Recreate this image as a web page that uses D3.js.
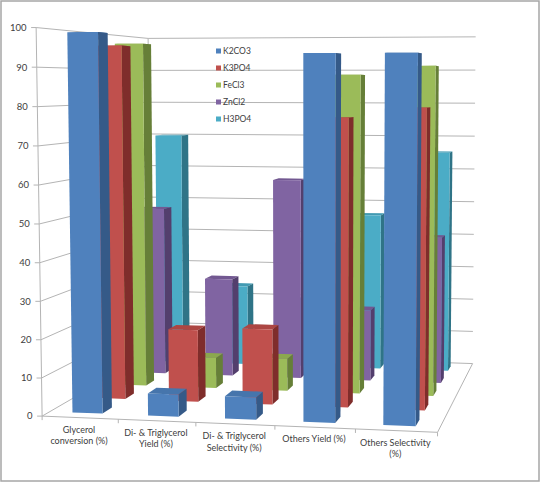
<!DOCTYPE html>
<html><head><meta charset="utf-8">
<style>html,body{margin:0;padding:0;background:#fff}svg{display:block}text{font-family:Lato,"Liberation Sans",Arial,sans-serif;fill:#404040}</style>
<script src="https://cdn.jsdelivr.net/npm/d3@7/dist/d3.min.js"></script>
</head><body><svg id="c" width="540" height="482"></svg>
<script>
const categories = [["Glycerol","conversion (%)"],["Di- & Triglycerol","Yield (%)"],["Di- & Triglycerol","Selectivity (%)"],["Others Yield (%)"],["Others Selectivity","(%)"]];
const seriesNames = ["K2CO3","K3PO4","FeCl3","ZnCl2","H3PO4"];
const k2co3 = [99,5.8,5.8,93.5,93.5];
const k3po4 = [96,19.6,20.4,77,79.7];
const fecl3 = [97,8.6,9,88.3,90.7];
const zncl2 = [49,28.6,58,20.5,42];
const h3po4 = [70,24,20,46.5,65.5];
const seriesValues = [k2co3,k3po4,fecl3,zncl2,h3po4];
const yTicks = d3.range(0,101,10);
const faceColors = ["#4F81BD","#C0504D","#9BBB59","#8064A2","#4BACC6"];
const sideColors = ["#355A88","#7F2D2B","#667F38","#533F6D","#2F7487"];
const topColors  = ["#4675AC","#AC4643","#8BA84E","#725891","#429AB2"];

// Camera calibration: box corners (unit cube) -> screen, least-squares DLT
const calib=[[0,0,0,41,415],[1,0,0,438,433],[0,0,1,152,354],[1,0,1,472,363],[0,1,0,37,28],[0,1,1,147,38],[1,1,1,476,37],
             [0,.5,0,39,224],[0,.5,1,150,197],[1,.5,1,474,201.6]];
function solve(M,b){
  const n=b.length,a=M.map((r,i)=>[...r,b[i]]);
  for(let c=0;c<n;c++){
    let p=c;for(let r=c+1;r<n;r++)if(Math.abs(a[r][c])>Math.abs(a[p][c]))p=r;
    [a[c],a[p]]=[a[p],a[c]];
    for(let r=0;r<n;r++){if(r===c)continue;const f=a[r][c]/a[c][c];for(let k=c;k<=n;k++)a[r][k]-=f*a[c][k];}
  }
  return a.map((r,i)=>r[n]/r[i]);
}
const rows=[],rhs=[];
calib.forEach(([x,y,z,u,v])=>{
  rows.push([x,y,z,1,0,0,0,0,-u*x,-u*y,-u*z]);rhs.push(u);
  rows.push([0,0,0,0,x,y,z,1,-v*x,-v*y,-v*z]);rhs.push(v);
});
const NtN=d3.range(11).map(i=>d3.range(11).map(j=>d3.sum(rows,r=>r[i]*r[j])));
const Ntb=d3.range(11).map(i=>d3.sum(rows,(r,k)=>r[i]*rhs[k]));
const m=solve(NtN,Ntb);
function project(x,y,z){
  const w=m[8]*x+m[9]*y+m[10]*z+1;
  return [(m[0]*x+m[1]*y+m[2]*z+m[3])/w,(m[4]*x+m[5]*y+m[6]*z+m[7])/w];
}
const xBand=d3.scaleBand().domain(d3.range(categories.length)).range([0,1]).paddingInner(0.6).paddingOuter(0.3);
const zBand=d3.scaleBand().domain(d3.range(seriesNames.length)).range([0,1]).paddingInner(0.6).paddingOuter(0.3);
const yScale=d3.scaleLinear().domain([0,100]).range([0,1]);
const line=d3.line();

const svg=d3.select("#c");
svg.append("rect").attr("x",1).attr("y",1).attr("width",538).attr("height",480).attr("fill","#fff").attr("stroke","#a6a6a6").attr("stroke-width",1.5);

const grid=svg.append("g").attr("fill","none").attr("stroke","#b4b4b4").attr("stroke-width",1);
yTicks.forEach(t=>{
  const v=yScale(t);
  grid.append("path").attr("d",line([project(0,v,0),project(0,v,1),project(1,v,1)]));
  const a=project(0,v,0);
  grid.append("path").attr("d",line([a,[a[0]-5,a[1]]]));
  svg.append("text").attr("x",a[0]-9.5).attr("y",a[1]).attr("dy","0.35em").attr("text-anchor","end").attr("font-size",9.5).text(t);
});
grid.append("path").attr("d",line([project(0,1,0),project(0,0,0),project(1,0,0),project(1,0,1)]));
grid.append("path").attr("d",line([project(0,1,1),project(0,0,1)]));
d3.range(categories.length+1).forEach(i=>{
  const a=project(i/categories.length,0,0);
  grid.append("path").attr("d",line([a,[a[0],a[1]+4]]));
});

const bars=svg.append("g");
d3.range(seriesNames.length-1,-1,-1).forEach(s=>{
  categories.forEach((c,i)=>{
    const x0=xBand(i), x1=x0+xBand.bandwidth(), z0=zBand(s), z1=z0+zBand.bandwidth(), h=yScale(seriesValues[s][i]);
    const P=(x,y,z)=>project(x,y,z);
    bars.append("path").attr("fill",topColors[s]).attr("d",line([P(x0,h,z0),P(x1,h,z0),P(x1,h,z1),P(x0,h,z1)])+"Z");
    bars.append("path").attr("fill",sideColors[s]).attr("d",line([P(x1,0,z0),P(x1,h,z0),P(x1,h,z1),P(x1,0,z1)])+"Z");
    bars.append("path").attr("fill",faceColors[s]).attr("d",line([P(x0,0,z0),P(x0,h,z0),P(x1,h,z0),P(x1,0,z0)])+"Z");
  });
});

categories.forEach((c,i)=>{
  const a=project(xBand(i)+xBand.bandwidth()/2,0,0);
  c.forEach((ln,j)=>svg.append("text").attr("x",a[0]-1).attr("y",a[1]+12+j*11.5).attr("dy","0.35em").attr("text-anchor","middle").attr("font-size",9).text(ln));
});

const lg=svg.append("g");
const legendY=d3.scaleLinear().domain([0,4]).range([51,119]);
seriesNames.forEach((n,s)=>{
  lg.append("rect").attr("x",216).attr("y",legendY(s)-2.5).attr("width",5).attr("height",5).attr("fill",faceColors[s]);
  lg.append("text").attr("x",223).attr("y",legendY(s)).attr("dy","0.35em").attr("font-size",8.5).text(n);
});
</script></body></html>
